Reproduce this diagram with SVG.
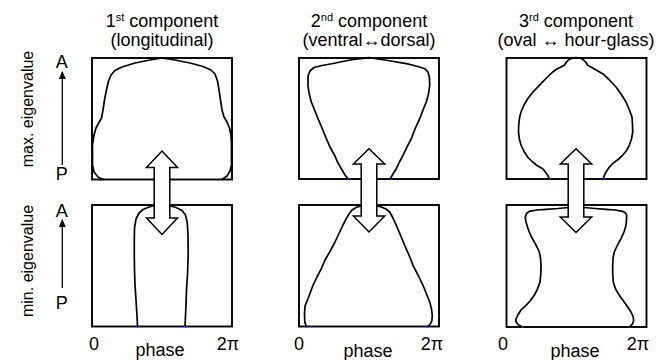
<svg xmlns="http://www.w3.org/2000/svg" width="659" height="360" viewBox="0 0 659 360">
<style>
text{font-family:"Liberation Sans",Arial,sans-serif;fill:#000}
.t{font-size:18px;text-anchor:middle}
.s{font-size:16px;text-anchor:middle}
.box{fill:none;stroke:#000;stroke-width:1.9}
.blob{fill:none;stroke:#000;stroke-width:1.7;stroke-linejoin:round;stroke-linecap:round}
.blue{stroke:#2020ff;stroke-width:1.6}
.dbl{fill:#fff;stroke:#000;stroke-width:1.5;stroke-linejoin:miter}
.ax{stroke:#000;stroke-width:1.3;fill:none}
</style>
<defs>
<marker id="ah" viewBox="0 0 8 10" refX="7" refY="5" markerWidth="8" markerHeight="10" markerUnits="userSpaceOnUse" orient="auto"><path d="M0,1.5 L8,5 L0,8.5 Z" fill="#000"/></marker>
</defs>

<g id="titles">
<text class="t" x="162" y="26.5">1<tspan font-size="11" dy="-6">st</tspan><tspan dy="6"> component</tspan></text>
<text class="t" x="162" y="46">(longitudinal)</text>
<text class="t" x="369" y="26.5">2<tspan font-size="11" dy="-6">nd</tspan><tspan dy="6"> component</tspan></text>
<text class="t" x="369" y="46">(ventral↔dorsal)</text>
<text class="t" x="576" y="26.5">3<tspan font-size="11" dy="-6">rd</tspan><tspan dy="6"> component</tspan></text>
<text class="t" x="576" y="46">(oval ↔ hour-glass)</text>
</g>

<g id="axis-left">
<text class="s" transform="translate(33,109) rotate(-90)">max. eigenvalue</text>
<text class="s" transform="translate(33,261) rotate(-90)">min. eigenvalue</text>
<text class="t" x="61.7" y="68.3">A</text>
<text class="t" x="61.7" y="180">P</text>
<text class="t" x="61.7" y="216.7">A</text>
<text class="t" x="61.7" y="309">P</text>
<line class="ax" x1="62.3" y1="165" x2="62.3" y2="72" marker-end="url(#ah)"/>
<line class="ax" x1="62.3" y1="288" x2="62.3" y2="220" marker-end="url(#ah)"/>
</g>

<g id="panel1-max">
<rect class="box" x="92" y="58" width="140" height="121.5"/>
<path class="blob" d="M103,179.5 L98,177 L94,172 L92.5,165 L92.5,145 L94,135 L96,128 L99,122.5 L101.5,118 L103,110 L104.5,100 L106.5,90 L108.5,81 L111,75 L115,70.5 L122,67 L135,63 L150,60 L162,58 L175,60 L190,63 L203,66.5 L211,70 L215,74 L217.5,81 L219,90 L220.5,100 L222,110 L224,117 L227,122 L229.5,128 L231,135 L231.5,145 L231.5,165 L230,171 L227,176 L222,179.5"/>
</g>
<g id="panel1-min">
<rect class="box" x="92" y="205" width="140" height="121.5"/>
<path class="blob" d="M137.5,326.5 L137,316 L136,300 L135,285 L134.5,270 L134.3,255 L134.3,240 L134.5,228 L136,219 L139,213 L143,209.5 L149,207 L155,205.5 L162,205.2 L169,205.5 L176,207.5 L182,210.5 L185.5,215 L187.3,223 L188,235 L188.2,255 L187.5,275 L186.5,290 L186,305 L185.5,316 L185,326.5"/>
<path class="blue" d="M136.5,326.5 h2 M184,326.5 h2"/>
<text class="t" x="94" y="350">0</text>
<text class="t" x="228" y="350">2π</text>
<text class="t" x="160" y="356">phase</text>
</g>

<g id="panel2-max">
<rect class="box" x="299" y="58" width="140" height="121"/>
<path class="blob" d="M348,178.7 L345,175 L341.3,168.7 L337,161 L334.7,155.3 L330,147 L326.3,138.7 L322,128 L318,118.7 L315,111 L311.3,102 L309,93 L308,85.3 L308,76 L310,71 L314,67.5 L322,65.5 L333,63.5 L350,60 L369,57.7 L388,60.5 L406.3,63.7 L418,66.5 L424.7,68.7 L428,72 L429.5,78 L429.7,85.3 L428.5,94 L426.3,102 L423,110 L419.7,118.7 L415,129 L411.3,138.7 L407,147 L403,155.3 L399.5,162 L396.3,168.7 L393,174 L390.3,178.5"/>
<path class="blue" d="M347,178.7 h2 M389.5,178.7 h2"/>
</g>
<g id="panel2-min">
<rect class="box" x="299" y="205" width="140" height="121.5"/>
<path class="blob" d="M306.3,326.5 L304.8,322 L304.5,314 L305,306 L308,298.7 L313,285.3 L317,277 L321.3,268.7 L325,260 L329.7,252 L335,242 L339.7,232 L343,225 L346.3,218.7 L349,214 L352,210 L357,207 L364,205.5 L369,205.2 L375,205.5 L381.3,207 L386,209 L389.7,212 L393,218 L396.3,225.3 L400,234 L404.7,245.3 L409,255 L413,265.3 L418,275 L423,285.3 L426.5,294 L429.7,302 L431.5,309 L432.3,315.3 L431.8,321 L429.7,325 L427,326.5"/>
<path class="blue" d="M305.5,326.5 h2 M426,326.5 h2"/>
<text class="t" x="299" y="350">0</text>
<text class="t" x="432" y="350">2π</text>
<text class="t" x="368" y="357">phase</text>
</g>

<g id="panel3-max">
<rect class="box" x="506.5" y="58" width="140" height="121"/>
<path class="blob" d="M549.3,178.7 L547.7,175.3 L545,171.5 L542.7,168.7 L537,165.5 L532.7,162 L528,157.5 L524.3,152 L521,145 L519.3,138.7 L518.5,132 L518.7,125.3 L519.5,118 L521,112 L524,105 L527.7,98.7 L533,92 L539.3,85.3 L546,78.5 L552.7,72 L557,69 L561,67 L564.3,65.3 L566.5,62 L569,59.5 L573,58 L576,57.7 L580,58 L583,59.5 L586,62.5 L587.7,65.3 L592.7,68 L597,70.5 L602.7,73.7 L609,79.5 L616,87 L621,94 L626,102 L629,109 L632,117 L632.5,124 L632.7,132 L631.5,139 L629.3,145.3 L626.5,150.5 L622.7,155.3 L618,159.5 L612.7,163.7 L609,167.5 L606,172 L604.5,175 L603.3,178.5"/>
<path class="blue" d="M548.5,178.7 h2 M602.5,178.7 h2"/>
</g>
<g id="panel3-min">
<rect class="box" x="506.5" y="205" width="140" height="122"/>
<path class="blob" d="M522.7,327 L518.5,325 L516,322 L516,319 L517.7,315.3 L521,310 L526,305.3 L530,301 L534.3,295.3 L537.5,289 L540,282 L540.8,274 L541,265.3 L540.5,258 L539.3,252 L537,247 L534.3,242 L531.5,237 L529.3,232 L527.5,227 L526,222 L525.3,217.5 L526.5,213.5 L529.3,211.3 L537,210 L546,209.3 L558,208.5 L568.7,207.5 L576,207 L584.3,207.5 L595,208.5 L606,209.3 L615,210 L622.7,211.3 L625.5,213 L626.7,215.3 L626.5,220 L626,225.3 L624,232 L621,238.7 L617.5,245 L614.3,252 L613,258 L612.7,265.3 L612.7,274 L613.3,282 L615.5,289 L619.3,295.3 L623.5,301 L627.7,307 L631,312 L633.3,317 L633.5,321 L632.7,323.7 L631,325.5 L629.3,327"/>
<path class="blue" d="M521.5,327 h2 M628.5,327 h2"/>
<text class="t" x="503" y="350">0</text>
<text class="t" x="638" y="350">2π</text>
<text class="t" x="575" y="357">phase</text>
</g>

<g id="connectors">
<polygon class="dbl" points="162,151 177.5,167.5 169.8,167.5 169.8,218 177.5,218 162,234.5 146.5,218 154.2,218 154.2,167.5 146.5,167.5"/>
<polygon class="dbl" points="369,148.7 384.7,164 376.8,164 376.8,216 384.7,216 369,232 353.3,216 361.2,216 361.2,164 353.3,164"/>
<polygon class="dbl" points="576,148.7 591.7,164 583.8,164 583.8,217 591.7,217 576,232.5 560.3,217 568.2,217 568.2,164 560.3,164"/>
</g>
</svg>
